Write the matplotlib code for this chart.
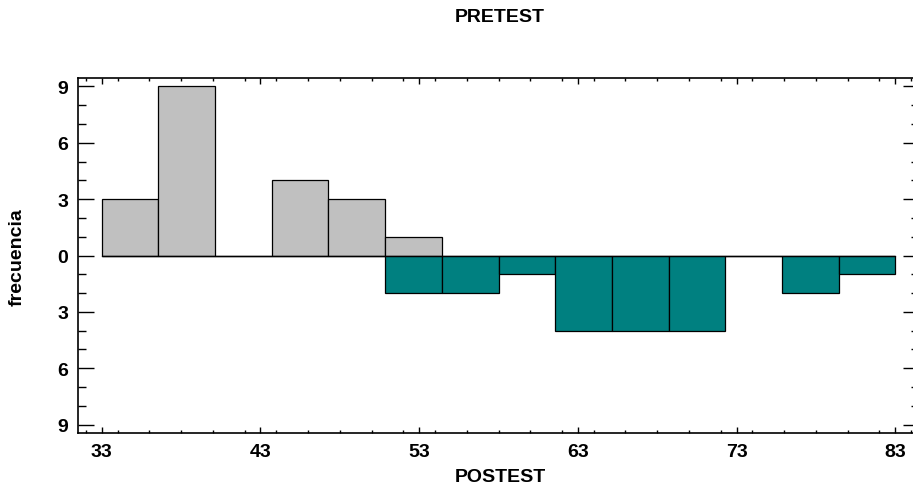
import matplotlib
matplotlib.use("Agg")
import matplotlib.pyplot as plt
from matplotlib.ticker import MultipleLocator, FuncFormatter
import numpy as np

plt.rcParams['font.family'] = ['Liberation Sans', 'DejaVu Sans']
plt.rcParams['font.weight'] = 'bold'

# histogram counts, 14 classes between 33 and 83
lower_limit = 33
upper_limit = 83
n_classes = 14
pretest_counts = [3, 9, 0, 4, 3, 1, 0, 0, 0, 0, 0, 0, 0, 0]
postest_counts = [0, 0, 0, 0, 0, 2, 2, 1, 4, 4, 4, 0, 2, 1]
x_ticks = [33, 43, 53, 63, 73, 83]
y_ticks = [-9, -6, -3, 0, 3, 6, 9]

edges = np.linspace(lower_limit, upper_limit, n_classes + 1)
width = edges[1] - edges[0]

fig = plt.figure(figsize=(9.13, 4.89), dpi=100)
ax = fig.add_axes([78/913, 1 - 434/489, (919 - 78)/913, (434 - 79)/489])

ax.bar(edges[:-1], pretest_counts, width=width, align='edge',
       color='#c0c0c0', edgecolor='black', linewidth=0.9)
ax.bar(edges[:-1], [-c for c in postest_counts], width=width, align='edge',
       color='#008080', edgecolor='black', linewidth=0.9)
ax.plot([edges[0], edges[-1]], [0, 0], color='black', linewidth=0.9)

ax.set_xlim(31.5, 84.5)
ax.set_ylim(-9.45, 9.45)
ax.set_xticks(x_ticks)
ax.set_yticks(y_ticks)
ax.xaxis.set_minor_locator(MultipleLocator(2))
ax.yaxis.set_minor_locator(MultipleLocator(1))
ax.yaxis.set_major_formatter(FuncFormatter(lambda v, p: '%d' % abs(v)))

ax.tick_params(axis='x', which='major', direction='in', length=4.5, width=1,
               top=True, pad=7, labelsize=14)
ax.tick_params(axis='x', which='minor', direction='in', length=2.3, width=1, top=True)
ax.tick_params(axis='y', which='major', direction='in', length=11.5, width=1,
               right=True, pad=7, labelsize=14)
ax.tick_params(axis='y', which='minor', direction='in', length=6, width=1, right=True)
for s in ax.spines.values():
    s.set_linewidth(1.2)
ax.spines['right'].set_visible(False)

fig.text(500/913, 1 - 18/489, 'PRETEST', ha='center', va='center',
         fontsize=14, fontweight='bold')
fig.text(500/913, 1 - 478/489, 'POSTEST', ha='center', va='center',
         fontsize=14, fontweight='bold')
fig.text(17/913, 1 - 257/489, 'frecuencia', ha='center', va='center',
         rotation=90, fontsize=14, fontweight='bold')

fig.savefig('out.png', dpi=100)
